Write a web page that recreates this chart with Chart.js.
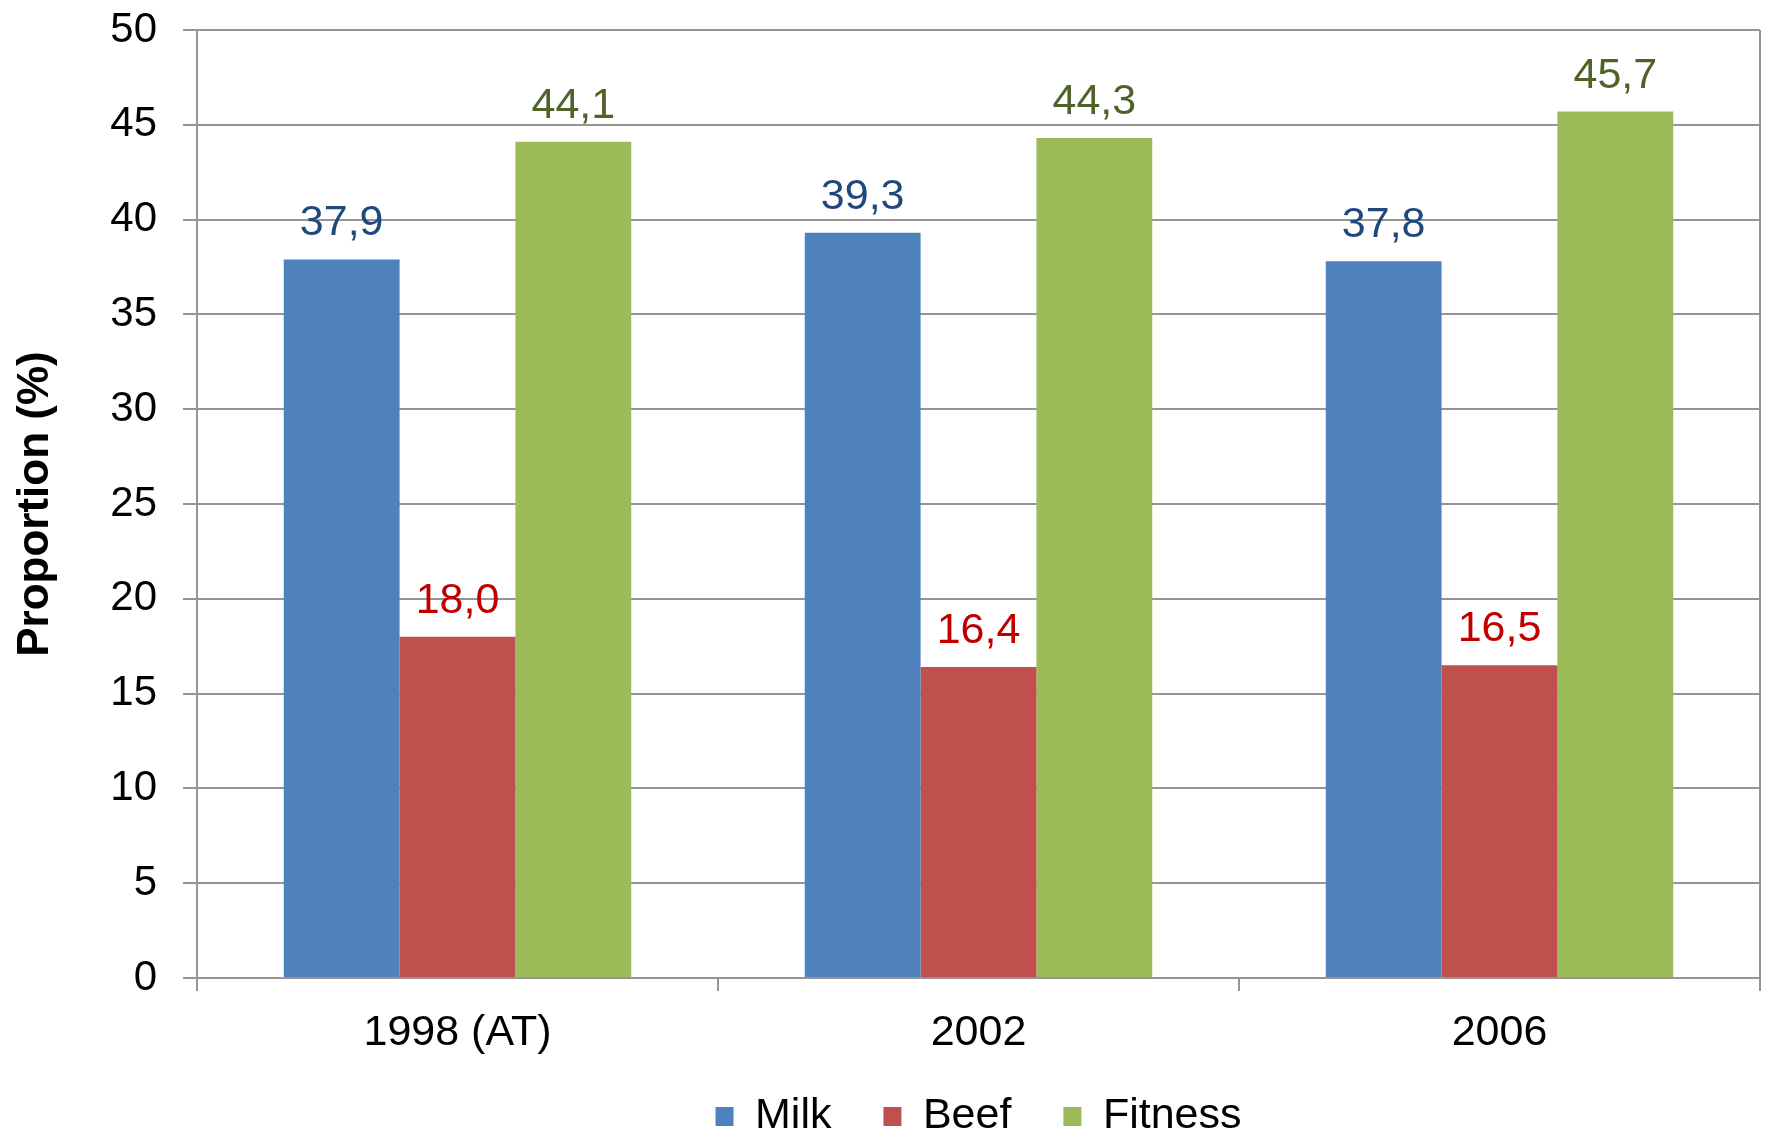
<!DOCTYPE html>
<html>
<head>
<meta charset="utf-8">
<script src="https://cdn.jsdelivr.net/npm/chart.js@4/dist/chart.umd.min.js"></script>
<style>
  html, body { margin: 0; padding: 0; background: #ffffff; overflow: hidden; }
  #wrap { width: 1765px; height: 1133px; overflow: hidden; }
  canvas { display: block; }
</style>
</head>
<body>
<div id="wrap"><canvas id="chart" width="1765" height="1173"></canvas></div>
<script>
// Survey years and breeding-goal shares (%)
const categories = ['1998 (AT)', '2002', '2006'];
const milk = [37.9, 39.3, 37.8];
const beef = [18.0, 16.4, 16.5];
const fitness = [44.1, 44.3, 45.7];

const seriesNames = ['Milk', 'Beef', 'Fitness'];
const barColors = ['#4F81BD', '#C0504D', '#9BBB59'];
const labelColors = ['#1F497D', '#C00000', '#4F6228'];

const yMin = 0, yMax = 50, yStep = 5;

const FONT = "'Liberation Sans', Arial, Helvetica, sans-serif";
const GRID = '#959595';

Chart.defaults.font.family = FONT;
Chart.defaults.color = '#000000';

// Writes each bar's value (decimal comma) just above the bar
const valueLabels = {
  id: 'valueLabels',
  afterDatasetsDraw(chart) {
    const ctx = chart.ctx;
    ctx.save();
    ctx.font = '43px ' + FONT;
    ctx.textAlign = 'center';
    ctx.textBaseline = 'alphabetic';
    chart.data.datasets.forEach((ds, di) => {
      const meta = chart.getDatasetMeta(di);
      ctx.fillStyle = labelColors[di];
      meta.data.forEach((bar, i) => {
        const txt = ds.data[i].toFixed(1).replace('.', ',');
        ctx.fillText(txt, bar.x, bar.y - 24);
      });
    });
    ctx.restore();
  }
};

// Right-hand border of the plot area
const plotBorder = {
  id: 'plotBorder',
  beforeDatasetsDraw(chart) {
    const {ctx, chartArea} = chart;
    ctx.save();
    ctx.strokeStyle = GRID;
    ctx.lineWidth = 2;
    ctx.beginPath();
    ctx.moveTo(chartArea.right, chartArea.top);
    ctx.lineTo(chartArea.right, chartArea.bottom);
    ctx.stroke();
    ctx.restore();
  }
};

// Pulls the legend row up closer to the category labels
const legendLift = {
  id: 'legendLift',
  afterLayout(chart) {
    const lg = chart.legend;
    if (lg) { lg.top -= 25; lg.bottom -= 25; }
  }
};

const seriesData = [milk, beef, fitness];

new Chart(document.getElementById('chart'), {
  type: 'bar',
  data: {
    labels: categories,
    datasets: seriesData.map((vals, i) => ({
      label: seriesNames[i],
      data: vals,
      backgroundColor: barColors[i],
      borderWidth: 0,
      categoryPercentage: 0.667,
      barPercentage: 1.0
    }))
  },
  options: {
    responsive: false,
    animation: false,
    devicePixelRatio: 1,
    layout: { padding: { top: 30, right: 5, left: 0, bottom: 0 } },
    plugins: {
      tooltip: { enabled: false },
      legend: {
        position: 'bottom',
        fullSize: false,
        labels: {
          font: { size: 43, family: FONT },
          color: '#000000',
          boxWidth: 18,
          boxHeight: 19,
          padding: 52
        }
      }
    },
    scales: {
      x: {
        grid: {
          drawOnChartArea: false,
          color: GRID,
          lineWidth: 2,
          tickLength: 13,
          offset: true
        },
        border: { color: GRID, width: 2 },
        ticks: { font: { size: 43, family: FONT }, color: '#000000', padding: 16 },
        afterFit(scale) { scale.height = 90; }
      },
      y: {
        min: yMin,
        max: yMax,
        ticks: {
          stepSize: yStep,
          font: { size: 42, family: FONT },
          color: '#000000',
          padding: 26
        },
        grid: { color: GRID, lineWidth: 2, tickLength: 14 },
        border: { color: GRID, width: 2 },
        title: {
          display: true,
          text: 'Proportion (%)',
          font: { size: 44, weight: 'bold', family: FONT },
          color: '#000000',
          padding: { top: 9, bottom: 0 }
        },
        afterFit(scale) {
          scale.width = 197;
          scale.paddingTop = 0;
          scale.paddingBottom = 0;
        }
      }
    }
  },
  plugins: [plotBorder, valueLabels, legendLift]
});
</script>
</body>
</html>
